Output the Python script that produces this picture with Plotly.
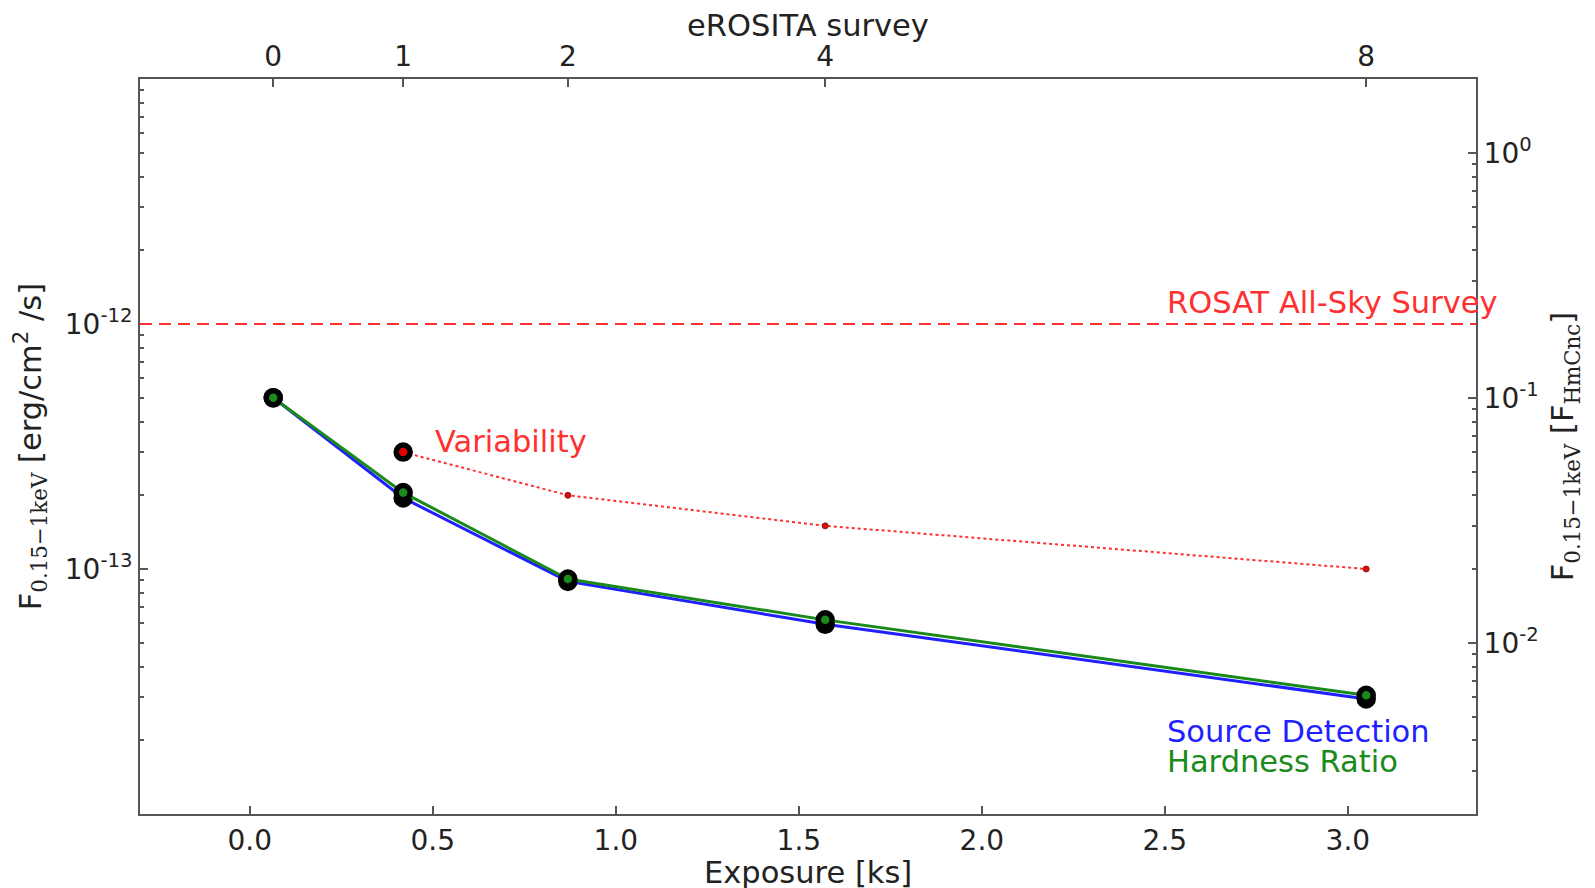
import plotly.graph_objects as go
import math

# ---- data ----
exposure_ks = [0.064, 0.419, 0.869, 1.572, 3.05]
survey_labels = ["0", "1", "2", "4", "8"]
source_detection = [5.0e-13, 1.95e-13, 8.9e-14, 5.95e-14, 2.95e-14]
hardness_ratio = [5.0e-13, 2.05e-13, 9.1e-14, 6.2e-14, 3.05e-14]
variability_x = [0.419, 0.869, 1.572, 3.05]
variability = [3.0e-13, 2.0e-13, 1.5e-13, 1.0e-13]
rosat_limit = 1.0e-12
hmcnc_flux = 5.0e-12          # right axis unit (F_HmCnc)

x_range = [-0.3, 3.35]
y_range_log = [-14.0, -11.0]
left_ticks = [1e-13, 1e-12]
left_ticktext = ["10<sup>-13</sup>", "10<sup>-12</sup>"]
right_ticks = [1e-2, 1e-1, 1e0]
right_ticktext = ["10<sup>-2</sup>", "10<sup>-1</sup>", "10<sup>0</sup>"]

right_range_log = [y_range_log[0] - math.log10(hmcnc_flux), y_range_log[1] - math.log10(hmcnc_flux)]


def minor_vals(lo, hi):
    vals = []
    for d in range(int(math.floor(lo)) - 1, int(math.ceil(hi)) + 1):
        for m in range(2, 10):
            vals.append(m * 10.0 ** d)
    return vals


FONT = "DejaVu Sans"
AX = "#555555"
BLUE = "#1f1fff"
GREEN = "#1a8a1a"
RED = "#ff3030"

fig = go.Figure()

fig.add_trace(go.Scatter(
    x=exposure_ks, y=source_detection, mode="lines+markers",
    line=dict(color=BLUE, width=3),
    marker=dict(size=14, color=BLUE, line=dict(color="black", width=5.5)),
    showlegend=False))
fig.add_trace(go.Scatter(
    x=exposure_ks, y=hardness_ratio, mode="lines+markers",
    line=dict(color=GREEN, width=3),
    marker=dict(size=14, color=GREEN, line=dict(color="black", width=5.5)),
    showlegend=False))
fig.add_trace(go.Scatter(
    x=variability_x, y=variability, mode="lines",
    line=dict(color=RED, width=2, dash="dot"),
    showlegend=False))
fig.add_trace(go.Scatter(
    x=variability_x[1:], y=variability[1:], mode="markers",
    marker=dict(size=6, color="#d01010", line=dict(color="#a01010", width=1)),
    showlegend=False))
fig.add_trace(go.Scatter(
    x=variability_x[:1], y=variability[:1], mode="markers",
    marker=dict(size=14, color="#e00000", line=dict(color="black", width=5.5)),
    showlegend=False))
# dummy trace so the secondary axes render
fig.add_trace(go.Scatter(x=[None], y=[None], xaxis="x2", yaxis="y2",
                         showlegend=False, hoverinfo="skip"))

fig.add_shape(type="line", xref="paper", x0=0, x1=1, yref="y", y0=rosat_limit, y1=rosat_limit,
              line=dict(color=RED, width=2, dash="12px,7px"))

ann_font = dict(family=FONT, size=30.5)
fig.add_annotation(x=2.5, y=math.log10(1.22e-12), text="ROSAT All-Sky Survey", showarrow=False,
                   xanchor="left", yanchor="middle", font=dict(color=RED, **ann_font))
fig.add_annotation(x=0.5, y=math.log10(3.3e-13), text="Variability", showarrow=False,
                   xanchor="left", yanchor="middle", font=dict(color=RED, **ann_font))
fig.add_annotation(x=2.5, y=math.log10(2.17e-14), text="Source Detection", showarrow=False,
                   xanchor="left", yanchor="middle", font=dict(color=BLUE, **ann_font))
fig.add_annotation(x=2.5, y=math.log10(1.64e-14), text="Hardness Ratio", showarrow=False,
                   xanchor="left", yanchor="middle", font=dict(color=GREEN, **ann_font))

tickfont = dict(family=FONT, size=28, color="#222222")
titlefont = dict(family=FONT, size=30.5, color="#222222")

# bottom axis title as a paper-anchored annotation
fig.add_annotation(xref="paper", yref="paper", x=0.5, y=-0.079, text="Exposure [ks]",
                   showarrow=False, xanchor="center", yanchor="middle", font=titlefont)

common = dict(showline=True, linecolor=AX, linewidth=2, ticks="inside", tickcolor=AX,
              ticklen=8, tickwidth=1.5, showgrid=False, zeroline=False, tickfont=tickfont,
              automargin=False)

# the page body adds an 8px offset; size the figure so the plot box lands where the reference has it
fig.update_layout(
    width=1579, height=880,
    margin=dict(l=132, r=111, t=71, b=74),
    paper_bgcolor="white", plot_bgcolor="white",
    font=dict(family=FONT),
    xaxis=dict(range=x_range, tickvals=[0, 0.5, 1.0, 1.5, 2.0, 2.5, 3.0],
               ticktext=["0.0", "0.5", "1.0", "1.5", "2.0", "2.5", "3.0"],
               ticklabelstandoff=0, **common),
    xaxis2=dict(range=x_range, overlaying="x", side="top", anchor="y",
                tickvals=exposure_ks, ticktext=survey_labels,
                title=dict(text="eROSITA survey", font=titlefont, standoff=0), **common),
    yaxis=dict(type="log", range=y_range_log, tickvals=left_ticks, ticktext=left_ticktext,
               minor=dict(ticks="inside", ticklen=4, tickcolor=AX,
                          tickmode="array", tickvals=minor_vals(*y_range_log)),
               title=dict(text="F<sub><span style='font-family:DejaVu Serif'>0.15−1keV</span></sub> [erg/cm<sup>2</sup> /s]",
                          font=titlefont, standoff=14), **common),
    yaxis2=dict(type="log", range=right_range_log, overlaying="y", side="right", anchor="x",
                tickvals=right_ticks, ticktext=right_ticktext,
                minor=dict(ticks="inside", ticklen=4, tickcolor=AX,
                           tickmode="array", tickvals=minor_vals(*right_range_log)),
                title=dict(text="F<sub><span style='font-family:DejaVu Serif'>0.15−1keV</span></sub> [F<sub><span style='font-family:DejaVu Serif'>HmCnc</span></sub>]",
                           font=titlefont, standoff=14), **common),
)

fig.write_html("out.html")
